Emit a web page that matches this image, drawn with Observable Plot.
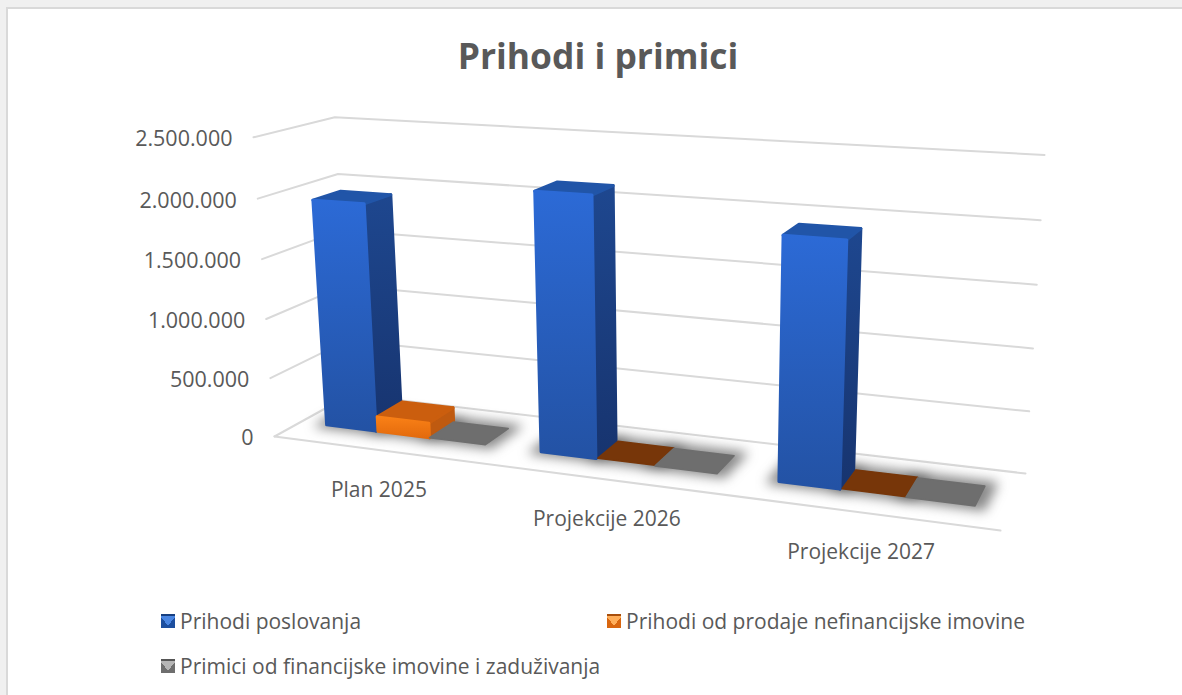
<!DOCTYPE html>
<html lang="hr"><head><meta charset="utf-8">
<script src="https://cdn.jsdelivr.net/npm/d3@7"></script>
<script src="https://cdn.jsdelivr.net/npm/@observablehq/plot@0.6"></script>
<style>
html,body{margin:0;padding:0;width:1182px;height:695px;overflow:hidden;background:#f0f0f0}
#frame{position:absolute;left:6px;top:7px;width:1176px;height:688px;background:#fff;border-left:2px solid #d9d9d9;border-top:2px solid #d9d9d9;box-sizing:border-box;}
#wrap{position:absolute;left:0;top:0;width:1182px;height:695px;font-family:"Open Sans",sans-serif;color:#595959}
#title{height:100px;line-height:110px;padding-left:14px;text-align:center;font-size:35.4px;font-weight:700;box-sizing:border-box}
#chart svg{display:block}
.leg{position:absolute;font-size:21px;line-height:24px;white-space:nowrap}
.sw{position:absolute;width:14px;height:14px}
</style></head><body>
<div id="frame"></div>
<div id="wrap">
<div id="title">Prihodi i primici</div>
<div id="chart"></div>
<div id="legend"></div>
</div>
<script>
const categories = ["Plan 2025", "Projekcije 2026", "Projekcije 2027"];
const seriesNames = ["Prihodi poslovanja", "Prihodi od prodaje nefinancijske imovine", "Primici od financijske imovine i zaduživanja"];
const prihodiPoslovanja = [1930000, 2130000, 1920000];
const prihodiProdaje = [125000, 5000, 5000];
const primici = [0, 0, 0];
const valueTicks = [0, 500000, 1000000, 1500000, 2000000, 2500000];
const tickLabels = ["0", "500.000", "1.000.000", "1.500.000", "2.000.000", "2.500.000"];
const maxValue = 2500000;

// 3D view: floor corners on the page, and the perspective of the vertical axis
const floorQuad = [[274,436],[1000,530],[1025,473],[350,394]];
const verticalVanish = [681,6230];
const horizonY = -136, heightPerY = 0.523;
const depth = [0.335, 0.69];
const barEdges = [[0,0.96],[0.995,1.97],[1.97,3]];

function homography(q){
  const [[x0,y0],[x1,y1],[x2,y2],[x3,y3]] = q;
  const dx1=x1-x2, dx2=x3-x2, sx=x0-x1+x2-x3, dy1=y1-y2, dy2=y3-y2, sy=y0-y1+y2-y3;
  const den=dx1*dy2-dx2*dy1;
  const g=(sx*dy2-dx2*sy)/den, h=(dx1*sy-sx*dy1)/den;
  return (u,v)=>{
    const w=g*u+h*v+1;
    return [((x1-x0+g*x1)*u+(x3-x0+h*x3)*v+x0)/w, ((y1-y0+g*y1)*u+(y3-y0+h*y3)*v+y0)/w];
  };
}
const hFloor=homography(floorQuad);
function project(u,v,value){
  const t=value/maxValue, f=.97*t+.03*t*t;
  const [fx,fy]=hFloor(u,v);
  const rise=f*heightPerY*(fy-horizonY);
  const lean=(verticalVanish[0]-fx)/(verticalVanish[1]-fy);
  return {x:fx-rise*lean, y:fy-rise};
}
// bar slots: three bars and one bar of gap per category
const slot=(c,s)=>[(c*4+0.5+barEdges[s][0])/12,(c*4+0.5+barEdges[s][1])/12];
function poly(id,pts){return pts.map(([u,v,h])=>({id,...project(u,v,h)}));}
const front=[],side=[],top_=[],flat=[],shadow=[];
const columns=[prihodiPoslovanja,prihodiProdaje,primici];
columns.forEach((vals,s)=>vals.forEach((val,c)=>{
  const [u0,u1]=slot(c,s),[v0,v1]=depth,id=`${s}-${c}`;
  shadow.push(...poly(id,[[u0-.012,v0-.04,0],[u1+.012,v0-.04,0],[u1+.012,v1+.07,0],[u0-.012,v1+.07,0]]));
  if(val<20000){
    flat.push({s,pts:poly(id,[[u0,v0,val],[u1,v0,val],[u1,v1,val],[u0,v1,val]])});
  }else{
    front.push({s,pts:poly(id,[[u0,v0,0],[u1,v0,0],[u1,v0,val],[u0,v0,val]])});
    side.push({s,pts:poly(id,[[u1,v0,0],[u1,v1,0],[u1,v1,val],[u1,v0,val]])});
    top_.push({s,pts:poly(id,[[u0,v0,val],[u1,v0,val],[u1,v1,val],[u0,v1,val]])});
  }
}));
const grid=valueTicks.flatMap((t,i)=>[
  {id:i,...project(0,0,t)},{id:i,...project(0,1,t)},{id:i,...project(1,1,t)}
]);
const floorFront=[{...project(0,0,0)},{...project(1,0,0)}];

const defs=()=>{
  const s=d3.create("svg:defs");
  const g=(id,x2,y2,a,b)=>{const l=s.append("linearGradient").attr("id",id).attr("x1",0).attr("y1",0).attr("x2",x2).attr("y2",y2);
    l.append("stop").attr("offset","0%").attr("stop-color",a);l.append("stop").attr("offset","100%").attr("stop-color",b);};
  g("blueFront",0,1,"#2c6ad6","#2352a4");
  g("blueSide",0,1,"#1e478f","#17346f");
  g("orangeFront",0,1,"#f98016","#e36a0c");
  return s.node();
};
const faceMark=(list,s,fill,sw=3)=>Plot.line(list.filter(d=>d.s===s).flatMap(d=>d.pts),{
  x:"x",y:"y",z:"id",curve:"linear-closed",fill,stroke:fill,strokeWidth:sw,strokeLinejoin:"round"});

const plot=Plot.plot({
  width:1182,height:500,margin:0,
  x:{domain:[0,1182],range:[0,1182],axis:null},
  y:{domain:[100,600],range:[0,500],axis:null},
  marks:[
    defs,
    Plot.line(grid,{x:"x",y:"y",z:"id",stroke:"#d9d9d9",strokeWidth:2}),
    Plot.line(floorFront,{x:"x",y:"y",stroke:"#d9d9d9",strokeWidth:2}),
    Plot.line(shadow,{x:"x",y:"y",z:"id",curve:"linear-closed",fill:"#4d4d4d",stroke:"#4d4d4d",strokeWidth:4,fillOpacity:.65,strokeOpacity:.45,imageFilter:"blur(6px)"}),
    faceMark(side,0,"url(#blueSide)"),
    faceMark(top_,0,"#2155a8"),
    faceMark(front,0,"url(#blueFront)"),
    faceMark(flat,1,"#773609",1.5),
    faceMark(side,1,"#bf5a10"),
    faceMark(top_,1,"#cb5e0e"),
    faceMark(front,1,"url(#orangeFront)"),
    faceMark(flat,2,"#6e6e6e",1.5),
    Plot.text(valueTicks,{x:t=>project(0,0,t).x,y:t=>project(0,0,t).y,text:(t,i)=>tickLabels[i],textAnchor:"end",dx:-21,dy:2,fontSize:21.5,fill:"#595959",fontFamily:"Open Sans"}),
    Plot.text(categories,{x:(c,i)=>project((i*4+2)/12,0,0).x,y:(c,i)=>project((i*4+2)/12,0,0).y,text:d=>d,dx:-1,dy:40,fontSize:21,fill:"#595959",fontFamily:"Open Sans"})
  ]
});
document.getElementById("chart").append(plot);

const swatches=[["#4a86e2","#1d4f9f","#173f80"],["#ffae5a","#d9660f","#a84f0c"],["#b5b5b5","#6e6e6e","#555555"]];
const legendPos=[[161,614],[607,614],[161,659]];
const lg=document.getElementById("legend");
seriesNames.forEach((name,i)=>{
  const [x,y]=legendPos[i],c=swatches[i];
  const sw=document.createElement("div");sw.className="sw";
  sw.style.left=x+"px";sw.style.top=y+"px";
  sw.style.background=`linear-gradient(${c[2]} 0 2px, transparent 2px), conic-gradient(from -38deg at 50% 85%, ${c[0]} 0 76deg, ${c[1]} 76deg)`;
  lg.append(sw);
  const t=document.createElement("div");t.className="leg";t.textContent=name;
  t.style.left=(x+19)+"px";t.style.top=(y-5)+"px";
  lg.append(t);
});
</script></body></html>
